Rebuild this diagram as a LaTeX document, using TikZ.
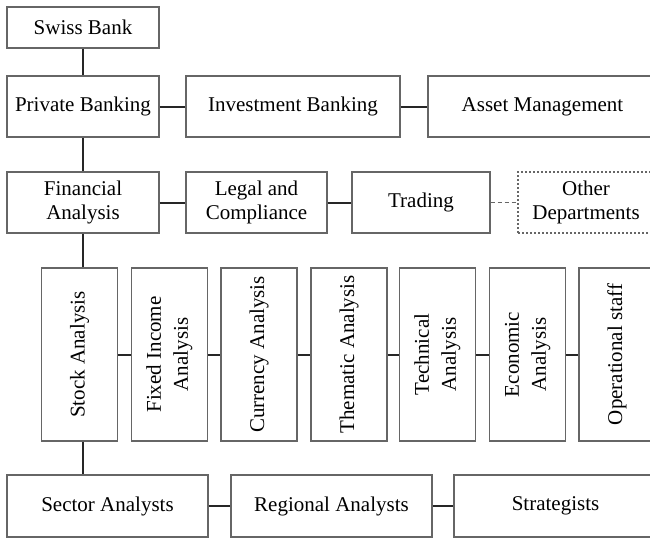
\documentclass[tikz,border=0pt]{standalone}
\usepackage{fontspec}
\setmainfont{Liberation Serif}
\usepackage{graphicx}
\usetikzlibrary{arrows}

\begin{document}
\begin{tikzpicture}[x=1pt,y=-1pt,
  unit/.style={draw=black!60, line width=1.2pt, align=center, inner sep=2pt,
    font=\fontsize{21}{24}\selectfont},
  hbox/.style={unit, minimum height=61pt},
  vbox/.style={unit, minimum width=76pt, minimum height=173pt},
  link/.style={color=black!85, line width=2pt}]
\useasboundingbox (0,0) rectangle (650,538);

\node[hbox, minimum height=41pt, minimum width=152pt] (SB) at (83,27.5)   {Swiss Bank};
  \node[hbox, minimum width=152pt]   (PB) at (83,106.5)    {Private Banking};
  \node[hbox, minimum width=214pt]   (IB) at (293,106.5)   {Investment Banking};
  \node[hbox, minimum width=229pt]   (AM) at (542.5,106.5) {Asset Management};
  \node[hbox, minimum width=152pt]   (FA) at (83,202.5)    {Financial\\Analysis};
  \node[hbox, minimum width=141pt]   (LC) at (256.5,202.5) {Legal and\\Compliance};
  \node[hbox, minimum width=138pt]   (TR) at (421,202.5)   {Trading};
  \node[hbox, minimum width=136pt, dash pattern=on 2pt off 2pt] (OD) at (586,202.5) {Other\\Departments};

  \node[vbox] (SA) at (79.5,354.5)  {\rotatebox{90}{Stock Analysis}};
  \node[vbox] (FI) at (169.5,354.5) {\rotatebox{90}{\begin{tabular}{@{}c@{}}Fixed Income\\[3pt]Analysis\end{tabular}}};
  \node[vbox] (CA) at (259,354.5)   {\rotatebox{90}{Currency Analysis}};
  \node[vbox] (TH) at (349,354.5)   {\rotatebox{90}{Thematic Analysis}};
  \node[vbox] (TE) at (437.5,354.5) {\rotatebox{90}{\begin{tabular}{@{}c@{}}Technical\\[3pt]Analysis\end{tabular}}};
  \node[vbox] (EC) at (527.5,354.5) {\rotatebox{90}{\begin{tabular}{@{}c@{}}Economic\\[3pt]Analysis\end{tabular}}};
  \node[vbox] (OS) at (617,354.5)   {\rotatebox{90}{Operational staff}};

  \node[hbox, minimum height=62pt, minimum width=201pt] (SE) at (107.5,506) {Sector Analysts};
  \node[hbox, minimum height=62pt, minimum width=201pt] (RA) at (331.5,506) {Regional Analysts};
  \node[hbox, minimum height=62pt, minimum width=203pt] (ST) at (555.5,506) {Strategists};


  \path[link]
		(SB) edge              node {} (PB)
        (PB) edge              node {} (IB)
        (IB) edge              node {} (AM)
        (PB) edge              node {} (FA)
        (FA) edge              node {} (LC)
        (LC) edge              node {} (TR)
        (SA) edge              node {} (FI)
        (FI) edge              node {} (CA)
        (CA) edge              node {} (TH)
        (TH) edge              node {} (TE)
        (TE) edge              node {} (EC)
        (EC) edge              node {} (OS)
        (SE) edge              node {} (RA)
        (RA) edge              node {} (ST);

  \path[color=black!60, line width=1.5pt, dash pattern=on 4pt off 3pt]
		(TR) edge              node {} (OD);

  \draw[link] (FA.south) -- (FA.south |- SA.north);
  \draw[link] (SA.south -| FA) -- (SE.north -| FA);
    \end{tikzpicture}
\end{document}
